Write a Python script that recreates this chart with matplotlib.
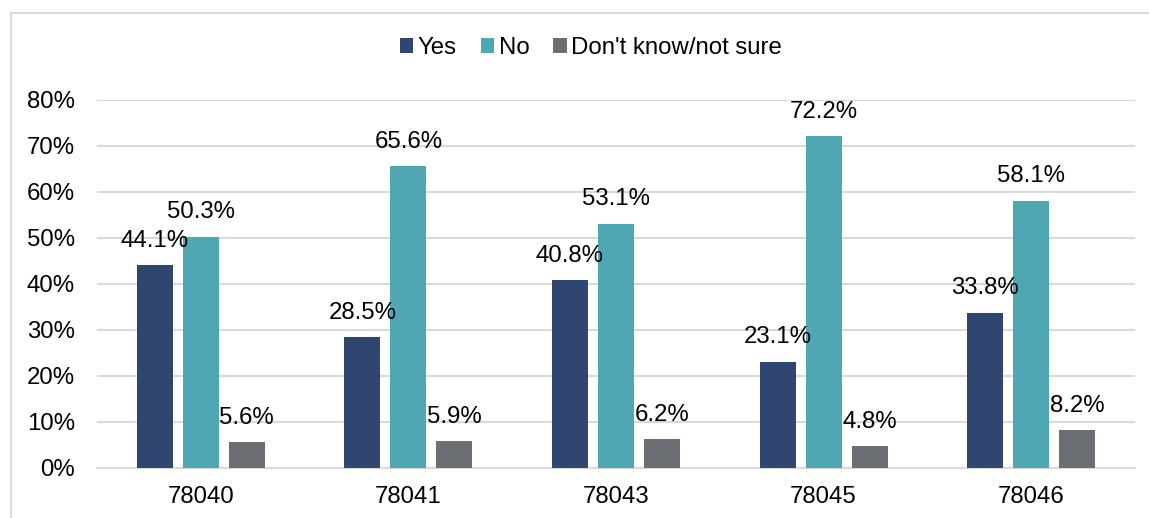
import matplotlib
matplotlib.use('Agg')
import matplotlib.pyplot as plt
from matplotlib.patches import Rectangle, Patch
import numpy as np

plt.rcParams['font.family'] = ['Liberation Sans', 'DejaVu Sans']

# data
zips = ['78040', '78041', '78043', '78045', '78046']
yes = [44.1, 28.5, 40.8, 23.1, 33.8]
no = [50.3, 65.6, 53.1, 72.2, 58.1]
dont_know = [5.6, 5.9, 6.2, 4.8, 8.2]
series_names = ['Yes', 'No', "Don't know/not sure"]
yticks = [0, 10, 20, 30, 40, 50, 60, 70, 80]

colors = ['#2F4770', '#4FA7B3', '#6B6E73']
grid_col = '#D9D9D9'
fs = 17.3

W, H = 1149, 518
fig = plt.figure(figsize=(W / 100, H / 100), dpi=100)
ax = fig.add_axes([97 / W, 50 / H, (1135 - 97) / W, (468 - 100) / H])

# outer chart frame (right and bottom edges fall outside the image)
fig.patches.append(Rectangle((11 / W, -0.1), 1.2, 1 - 13 / H + 0.1,
                             transform=fig.transFigure, fill=False,
                             edgecolor=grid_col, linewidth=1.5))

x = np.arange(len(zips))
w = 0.173
offs = [-0.2216, 0.0, 0.2216]
for vals, off, c in zip([yes, no, dont_know], offs, colors):
    bars = ax.bar(x + off, vals, width=w, color=c, zorder=3)
    for b, v in zip(bars, vals):
        ax.annotate(f'{v:.1f}%', (b.get_x() + b.get_width() / 2, v),
                    xytext=(0, 17.5), textcoords='offset points',
                    ha='center', va='center', fontsize=fs, color='#000000',
                    zorder=4)

ax.set_xlim(-0.5, len(zips) - 0.5)
ax.set_ylim(0, 80)
ax.set_yticks(yticks)
ax.set_yticklabels([f'{t}%' for t in yticks])
ax.set_xticks(x)
ax.set_xticklabels(zips)
ax.tick_params(axis='both', length=0, labelsize=fs)
ax.tick_params(axis='y', pad=16)
ax.tick_params(axis='x', pad=13)
ax.grid(axis='y', color=grid_col, linewidth=1.5, zorder=0)
for s in ['top', 'right', 'left']:
    ax.spines[s].set_visible(False)
ax.spines['bottom'].set_color(grid_col)
ax.spines['bottom'].set_linewidth(1.5)

handles = [Patch(facecolor=c, edgecolor='none') for c in colors]
fig.legend(handles, series_names, loc='center', ncol=3,
           bbox_to_anchor=(591 / W, 1 - 48 / H), frameon=False,
           fontsize=fs, handlelength=0.55, handleheight=0.55,
           handletextpad=0.2, columnspacing=1.0)

fig.savefig('out.png', dpi=100)
